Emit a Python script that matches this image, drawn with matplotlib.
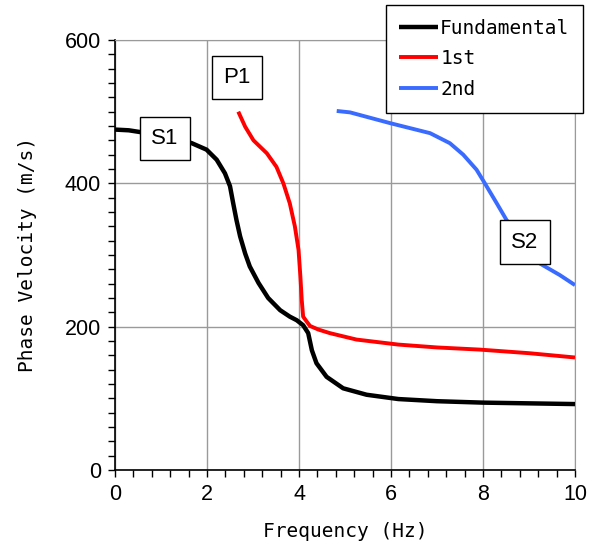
import matplotlib.pyplot as plt
from matplotlib.ticker import MultipleLocator

# dispersion curves, values
f_fund = [0, 0.3, 0.6, 1.2, 1.67, 1.99, 2.21, 2.39, 2.50, 2.57, 2.64, 2.72, 2.83, 2.93, 3.12,
          3.33, 3.59, 3.80, 3.95, 4.09, 4.20, 4.28, 4.38, 4.60, 4.96, 5.47, 6.16, 7.0, 8.0, 9.0, 10]
v_fund = [475, 474, 471, 465, 456, 447, 433, 414, 396, 372, 349, 326, 302, 284, 261,
          240, 223, 214, 209, 202, 191, 167, 149, 130, 114, 105, 99, 96, 94, 93, 92]

f_1st = [2.68, 2.83, 3.01, 3.30, 3.51, 3.66, 3.80, 3.91, 3.99, 4.03, 4.06, 4.09, 4.18, 4.24,
         4.42, 4.67, 5.25, 6.16, 7.0, 7.93, 9.0, 10]
v_1st = [500, 479, 460, 442, 423, 400, 372, 340, 307, 270, 237, 214, 206, 201,
         196, 191, 182, 175, 171, 168, 163, 157]

f_2nd = [4.82, 5.11, 5.98, 6.85, 7.28, 7.57, 7.86, 8.04, 8.30, 8.51, 8.9, 9.24, 9.67, 10]
v_2nd = [501, 499, 484, 470, 456, 440, 419, 400, 372, 349, 316, 288, 272, 258]

mode_names = ["Fundamental", "1st", "2nd"]
tags = ["S1", "P1", "S2"]
tag_pos = [(1.09, 463), (2.65, 548), (8.91, 318)]

mono = ["DejaVu Sans Mono"]
plain = ["Liberation Sans", "DejaVu Sans"]

fig = plt.figure(figsize=(5.89, 5.47), dpi=100)
ax = fig.add_axes([115 / 589, 1 - 470 / 547, 460 / 589, 430 / 547])

style = dict(solid_joinstyle="round", solid_capstyle="butt", zorder=3)
l0, = ax.plot(f_fund, v_fund, color="black", lw=3.2, label=mode_names[0], **style)
l1, = ax.plot(f_1st, v_1st, color="#ff0000", lw=2.8, label=mode_names[1], **style)
l2, = ax.plot(f_2nd, v_2nd, color="#3a6bff", lw=2.8, label=mode_names[2], **style)

ax.set_xlim(0, 10)
ax.set_ylim(0, 600)
ax.xaxis.set_major_locator(MultipleLocator(2))
ax.xaxis.set_minor_locator(MultipleLocator(0.4))
ax.yaxis.set_major_locator(MultipleLocator(200))
ax.yaxis.set_minor_locator(MultipleLocator(20))
ax.tick_params(which="both", direction="out", length=5, width=1, color="black", pad=5)
ax.grid(True, which="major", color="#9a9a9a", lw=1)

for s in ["top", "right"]:
    ax.spines[s].set_color("#9a9a9a")
for s in ["left", "bottom"]:
    ax.spines[s].set_color("black")
    ax.spines[s].set_linewidth(1.2)

for lab in ax.get_xticklabels() + ax.get_yticklabels():
    lab.set_family(plain)
    lab.set_fontsize(15.5)

ax.set_xlabel("Frequency (Hz)", family=mono, fontsize=14, labelpad=12)
ax.set_ylabel("Phase Velocity (m/s)", family=mono, fontsize=14, labelpad=20)

for t, (x, y) in zip(tags, tag_pos):
    ax.text(x, y, t, ha="center", va="center", fontsize=16, family=plain, zorder=5,
            bbox=dict(boxstyle="square,pad=0.5", fc="white", ec="black", lw=1))

leg = fig.legend(handles=[l0, l1, l2], loc="upper right",
                 bbox_to_anchor=(583 / 589, 1 - 5 / 547), prop={"family": mono, "size": 14},
                 fancybox=False, framealpha=1, edgecolor="black", handlelength=2.0,
                 handletextpad=0.1, borderpad=0.7, labelspacing=0.6, borderaxespad=0)
leg.get_frame().set_linewidth(1)

fig.savefig("out.png", dpi=100)
